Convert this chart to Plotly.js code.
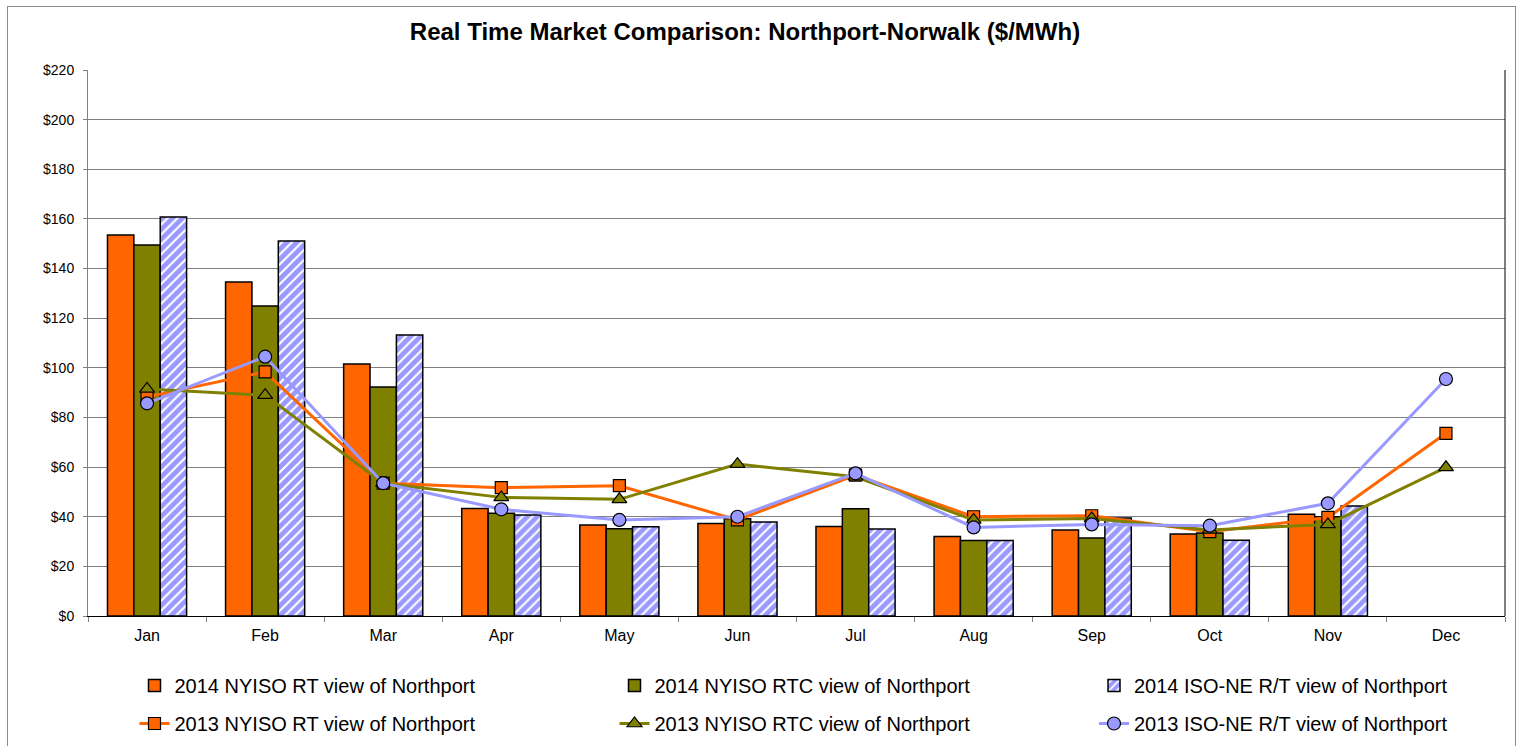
<!DOCTYPE html>
<html>
<head>
<meta charset="utf-8">
<script src="https://cdn.plot.ly/plotly-3.0.1.min.js"></script>
<style>
  html, body { margin: 0; padding: 0; background: #fff; }
  #wrap { position: relative; width: 1522px; height: 746px; overflow: hidden; }
  #chart { width: 1522px; height: 746px; }
  #frame { position: absolute; left: 7px; top: 6px; width: 1507px; height: 780px;
           border: 1px solid #8c8c8c; pointer-events: none; }
</style>
</head>
<body>
<div id="wrap">
  <div id="chart"></div>
  <div id="frame"></div>
</div>
<script>
const months = ['Jan','Feb','Mar','Apr','May','Jun','Jul','Aug','Sep','Oct','Nov','Dec'];

const rt2014  = [153.5, 134.6, 101.5, 43.3, 36.7, 37.3, 36.1, 32.0, 34.7, 33.0, 41.0, null];
const rtc2014 = [149.5, 124.9,  92.3, 41.4, 35.2, 39.2, 43.2, 30.4, 31.4, 33.4, 40.0, null];
const iso2014 = [160.8, 151.1, 113.2, 40.7, 36.0, 37.9, 35.1, 30.4, 39.5, 30.5, 44.3, null];

const rt2013  = [88.3,  98.4, 53.5, 51.7, 52.5, 38.7, 56.8, 40.0, 40.4, 34.0, 39.7, 73.6];
const rtc2013 = [91.5,  89.0, 53.5, 47.8, 47.0, 61.2, 56.1, 38.7, 39.3, 34.7, 36.9, 59.9];
const iso2013 = [85.7, 104.5, 53.5, 43.0, 38.7, 40.0, 57.5, 35.7, 36.9, 36.4, 45.4, 95.5];

const yTickVals = [0,20,40,60,80,100,120,140,160,180,200,220];
const yTickText = yTickVals.map(v => '$' + v);

const names = [
  '2014 NYISO RT view of Northport',
  '2014 NYISO RTC view of Northport',
  '2014 ISO-NE R/T view of Northport',
  '2013 NYISO RT view of Northport',
  '2013 NYISO RTC view of Northport',
  '2013 ISO-NE R/T view of Northport'
];

const ORANGE = '#FF6600', OLIVE = '#808000', LBLUE = '#9999FF';

const traces = [
  { type: 'bar', name: names[0], x: months, y: rt2014, legend: 'legend', legendgroup: 'a',
    marker: { color: ORANGE, line: { color: '#000', width: 1.5 } } },
  { type: 'bar', name: names[1], x: months, y: rtc2014, legend: 'legend2', legendgroup: 'b',
    marker: { color: OLIVE, line: { color: '#000', width: 1.5 } } },
  { type: 'bar', name: names[2], x: months, y: iso2014, legend: 'legend3', legendgroup: 'c',
    marker: { color: LBLUE, line: { color: '#000', width: 1.5 },
      pattern: { shape: '/', fillmode: 'replace', bgcolor: LBLUE, fgcolor: '#ffffff', size: 7, solidity: 0.3 } } },
  { type: 'scatter', mode: 'lines+markers', name: names[3], x: months, y: rt2013, legend: 'legend', legendgroup: 'd',
    line: { color: ORANGE, width: 3 },
    marker: { symbol: 'square', size: 12, color: ORANGE, line: { color: '#000', width: 1.2 } } },
  { type: 'scatter', mode: 'lines+markers', name: names[4], x: months, y: rtc2013, legend: 'legend2', legendgroup: 'e',
    line: { color: OLIVE, width: 3 },
    marker: { symbol: 'triangle-up', size: 13, color: OLIVE, line: { color: '#000', width: 1.2 } } },
  { type: 'scatter', mode: 'lines+markers', name: names[5], x: months, y: iso2013, legend: 'legend3', legendgroup: 'f',
    line: { color: LBLUE, width: 3 },
    marker: { symbol: 'circle', size: 13, color: LBLUE, line: { color: '#000', width: 1.2 } } }
];

function legendAt(px) {
  return { orientation: 'v', xref: 'container', x: px / 1522, xanchor: 'left',
    yref: 'container', y: 1 - 666 / 746, yanchor: 'top',
    font: { size: 20, family: 'Liberation Sans, Arial, sans-serif', color: '#000' },
    tracegroupgap: 9, bgcolor: 'rgba(0,0,0,0)', borderwidth: 0 };
}

const layout = {
  width: 1522, height: 746,
  margin: { l: 88, r: 17, t: 70, b: 130, autoexpand: false },
  paper_bgcolor: '#fff', plot_bgcolor: '#fff',
  font: { family: 'Liberation Sans, Arial, sans-serif', color: '#000', size: 14 },
  title: { text: '<b>Real Time Market Comparison: Northport-Norwalk ($/MWh)</b>',
    font: { size: 24, family: 'Liberation Sans, Arial, sans-serif', color: '#000' },
    x: 745 / 1522, xref: 'container', xanchor: 'center',
    y: 1 - 32 / 746, yref: 'container', yanchor: 'middle' },
  barmode: 'group', bargap: 0.33, bargroupgap: 0,
  showlegend: true,
  legend: legendAt(134.5),
  legend2: legendAt(614.5),
  legend3: legendAt(1094),
  xaxis: { type: 'category', showgrid: false, showline: true, linecolor: '#000', linewidth: 1,
    ticks: 'outside', tickson: 'boundaries', ticklen: 5, tickcolor: '#808080',
    ticklabelstandoff: 5,
    tickfont: { size: 16 }, range: [-0.5, 11.5], zeroline: false },
  yaxis: { range: [0, 220], tickvals: yTickVals, ticktext: yTickText,
    showgrid: true, gridcolor: '#808080', gridwidth: 1,
    showline: true, linecolor: '#808080', linewidth: 1,
    ticks: 'outside', ticklen: 4, tickcolor: '#808080', ticklabelstandoff: 6,
    tickfont: { size: 14 }, zeroline: false, fixedrange: true },
  shapes: [
    { type: 'line', xref: 'paper', yref: 'paper', x0: 1, x1: 1, y0: 0, y1: 1,
      line: { color: '#000', width: 1 } }
  ]
};

Plotly.newPlot('chart', traces, layout, { displayModeBar: false, staticPlot: true });
</script>
</body>
</html>
